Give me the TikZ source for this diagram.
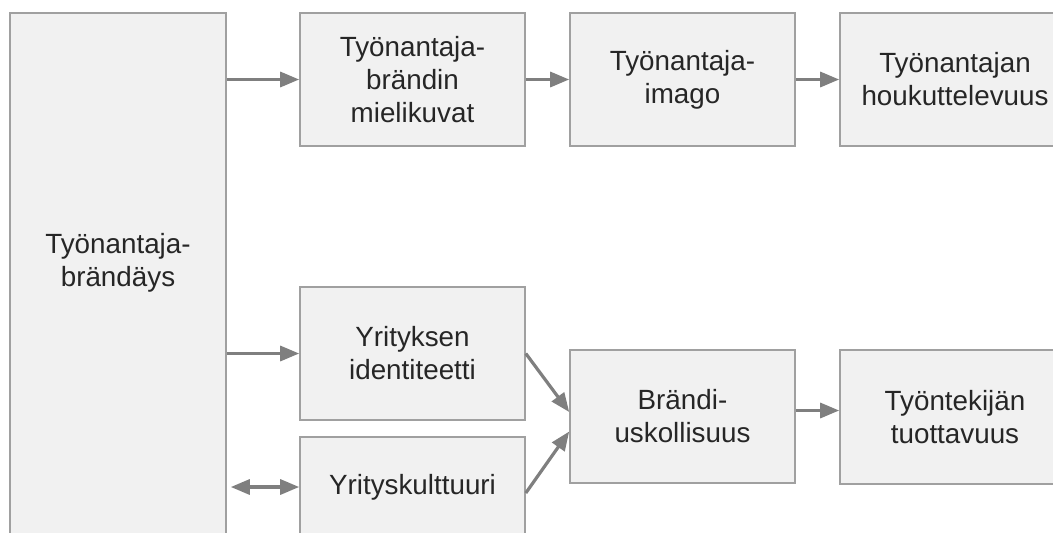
\documentclass[tikz,border=0pt]{standalone}
\usepackage{fontspec}
\setmainfont{Liberation Sans}
\usetikzlibrary{arrows.meta}
\definecolor{boxfill}{HTML}{F1F1F1}
\definecolor{boxline}{HTML}{A0A0A0}
\definecolor{arrcol}{HTML}{7F7F7F}
\definecolor{txt}{HTML}{262626}
\begin{document}
\begin{tikzpicture}[x=1pt,y=-1pt,
  box/.style={draw=boxline, fill=boxfill, line width=1.6pt, inner sep=0pt,
    minimum width=225pt, minimum height=133pt, align=center, text=txt,
    font=\fontsize{27.8}{33}\selectfont},
  lbl/.style={align=center, text=txt, inner sep=0pt, font=\fontsize{27.8}{33}\selectfont},
  arr/.style={draw=arrcol, line width=3.2pt, -{Triangle[length=19pt,width=15pt]}},
  darr/.style={draw=arrcol, line width=3.2pt, {Triangle[length=19pt,width=15pt]}-{Triangle[length=19pt,width=15pt]}}]
\useasboundingbox (0,0) rectangle (1053,533);
\begin{scope}
\clip (0,0) rectangle (1053,533);
\node[box, minimum width=216pt, minimum height=532pt] (lb) at (118,279) {};
\node[lbl] (lbt) at (118,263) {Työnantaja-\\brändäys};
\node[box] (b2) at (412.5,79.5) {Työnantaja-\\brändin\\mielikuvat};
\node[box] (b3) at (682.5,79.5) {Työnantaja-\\imago};
\node[box, minimum width=230pt] (b4) at (955,79.5) {Työnantajan\\houkuttelevuus};
\node[box] (id) at (412.5,353.5) {Yrityksen\\identiteetti};
\node[box, minimum height=100pt] (ku) at (412.5,487) {Yrityskulttuuri};
\node[box] (br) at (682.5,416.5) {Brändi-\\uskollisuus};
\node[box, minimum width=230pt, minimum height=134pt] (ty) at (955,417) {Työntekijän\\tuottavuus};
\end{scope}
\draw[arr] (lb.east |- b2.west) -- (b2.west);
\draw[arr] (b2.east) -- (b3.west);
\draw[arr] (b3.east) -- (b4.west);
\draw[arr] (lb.east |- id.west) -- (id.west);
\draw[darr] ([xshift=4pt]lb.east |- ku.west) -- (ku.west);
\draw[arr] (id.east) -- ([yshift=4.5pt]br.west);
\draw[arr] ([yshift=-6pt]ku.east) -- ([yshift=-15pt]br.west);
\draw[arr] ([yshift=6pt]br.east) -- ([yshift=6pt]br.east -| ty.west);
\end{tikzpicture}
\end{document}
